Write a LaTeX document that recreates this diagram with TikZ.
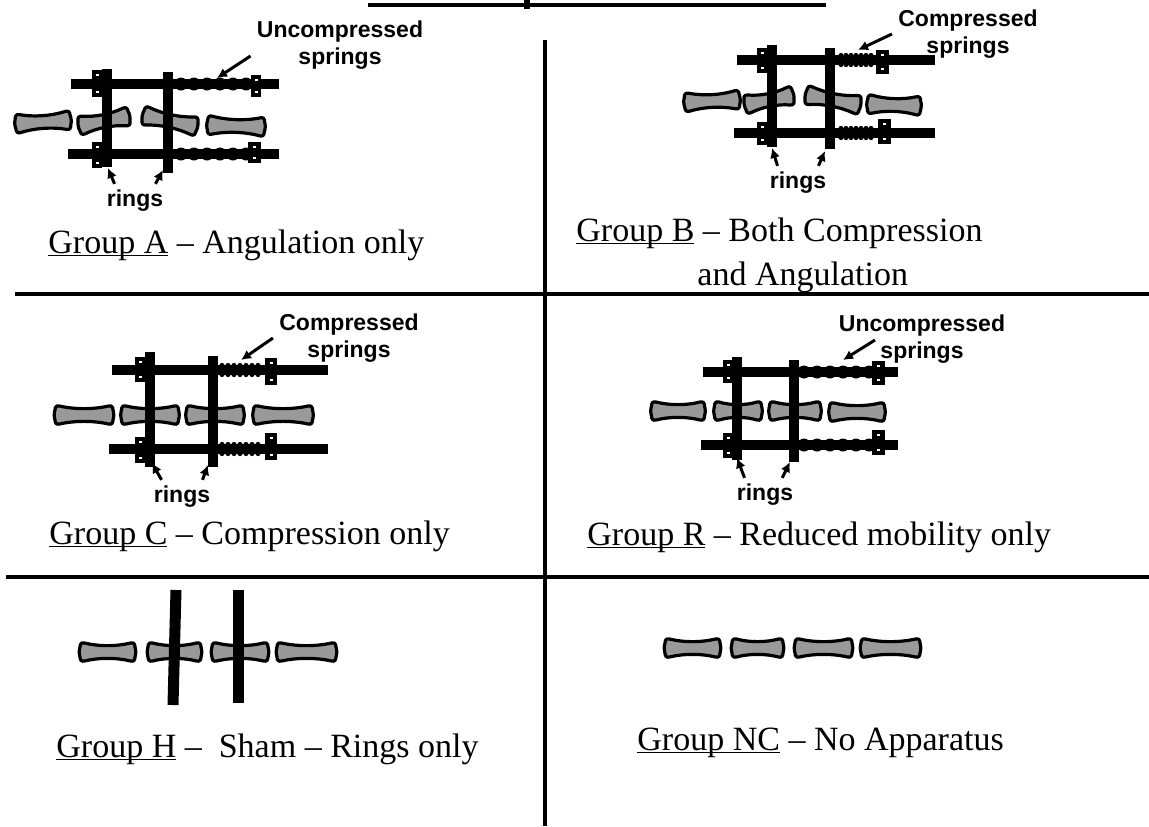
\documentclass[tikz,border=0pt]{standalone}
\usepackage{fontspec}
\setmainfont{Liberation Serif}
\setsansfont{Liberation Sans}
\usetikzlibrary{arrows.meta}

% one phalanx: centre x, centre y, tilt, half length
\newcommand{\bone}[4]{%
  \filldraw[bone, shift={(#1,#2)}, rotate=#3]
    ({-#4+4},-9) .. controls ({-#4/3},-5.5) and ({#4/3},-5.5) .. ({#4-4},-9)
    .. controls ({#4-1},-9.8) and ({#4+0.5},-8) .. ({#4+0.5},-5)
    .. controls ({#4+1.5},-2) and ({#4+1.5},2) .. ({#4+0.5},5)
    .. controls ({#4+0.5},8) and ({#4-1},9.8) .. ({#4-4},9)
    .. controls ({#4/3},5.5) and ({-#4/3},5.5) .. ({-#4+4},9)
    .. controls ({-#4+1},9.8) and ({-#4-0.5},8) .. ({-#4-0.5},5)
    .. controls ({-#4-1.5},2) and ({-#4-1.5},-2) .. ({-#4-0.5},-5)
    .. controls ({-#4-0.5},-8) and ({-#4+1},-9.8) .. ({-#4+4},-9) -- cycle;}

% clamp block on a rod: x1, y1, x2, y2
\newcommand{\clamp}[4]{%
  \fill (#1,#2) rectangle (#3,#4);
  \draw[white, line width=0.7pt] ({(#1+#3)/2-1.5},{#2+5}) -- ++(3,0)
                                 ({(#1+#3)/2-1.5},{#4-5}) -- ++(3,0);}

% underlined group name, rule just under the baseline
\newcommand{\grp}[1]{\underline{\smash{#1}}}

\begin{document}
\begin{tikzpicture}[x=0.5pt, y=-0.5pt,
  bone/.style    ={draw=black, fill=black!40, line width=1.6pt},
  rod/.style     ={line width=5pt},
  ringbar/.style ={line width=5pt},
  divider/.style ={line width=2pt},
  ptr/.style     ={line width=1.5pt, -{Latex[length=5pt,width=5pt]}},
  lbl/.style     ={font=\sffamily\bfseries\fontsize{11.5}{13.5}\selectfont, align=center, inner sep=3pt},
  grouptxt/.style={font=\fontsize{17}{21}\selectfont, anchor=base west, inner sep=0pt}]

  \useasboundingbox (0,0) rectangle (1149,826);

  % ---------------- panel dividers ----------------
  \draw[divider] (368,5) -- (826,5);
  \fill (524,0) rectangle (530,9);
  \draw[divider] (545,40) -- (545,826);
  \draw[divider] (15,294) -- (1149,294);
  \draw[divider] (6,577) -- (1149,577);

  % ---------------- Group A : angulation ----------------
  \bone{43}{122}{4}{27}
  \bone{104}{121}{11}{25}
  \bone{170}{121}{-12}{27}
  \bone{236}{126}{-2}{28}
  \draw[rod] (71,84) -- (279,84);
  \draw[rod] (68,154) -- (279,154);
  \foreach \x in {181,194,...,246} {\fill (\x,84) circle[radius=6.5]; \fill (\x,154) circle[radius=6.5];}
  \draw[ringbar] (107,69) -- (107,167);
  \draw[ringbar] (168,72) -- (168,173);
  \clamp{92}{70}{102}{97} \clamp{92}{142}{102}{168}
  \clamp{251}{75}{261}{97} \clamp{248}{142}{261}{163}
  \node[lbl] (sprA) at (340,45) {Uncompressed\\springs};
  \coordinate (sprAtip) at (217,78);
  \draw[ptr] (sprA.187) -- (sprAtip);
  \node[lbl] (rgA) at (135,201) {rings};
  \coordinate (rgAl) at (108,168); \coordinate (rgAr) at (163,170);
  \draw[ptr] (rgA.140) -- (rgAl);
  \draw[ptr] (rgA.40) -- (rgAr);
  \node[grouptxt] (capA) at (48,253) {\grp{Group A} – Angulation only};

  % ---------------- Group B : compression + angulation ----------------
  \bone{712}{101}{3}{27}
  \bone{769}{100}{11}{24}
  \bone{833}{100}{-11}{27}
  \bone{894}{105}{-2}{26}
  \draw[rod] (737,60) -- (935,60);
  \draw[rod] (734,133) -- (935,133);
  \foreach \x in {841,846,...,873} {
    \fill (\x,55.5) circle[radius=2.6]; \fill (\x,64.5) circle[radius=2.6];
    \fill (\x,128.5) circle[radius=2.6]; \fill (\x,137.5) circle[radius=2.6];}
  \draw[ringbar] (772,45) -- (772,147);
  \draw[ringbar] (830,48) -- (830,149);
  \clamp{757}{48}{767}{73} \clamp{757}{122}{767}{145}
  \clamp{876}{50}{889}{74} \clamp{878}{119}{891}{144}
  \node[lbl] (sprB) at (968,34) {Compressed\\springs};
  \coordinate (sprBtip) at (858,50);
  \draw[ptr] (sprB.west) -- (sprBtip);
  \node[lbl] (rgB) at (798,183) {rings};
  \coordinate (rgBl) at (772,148); \coordinate (rgBr) at (825,151);
  \draw[ptr] (rgB.140) -- (rgBl);
  \draw[ptr] (rgB.40) -- (rgBr);
  \node[grouptxt] (capB) at (576,241) {\grp{Group B} – Both Compression};
  \node[grouptxt] (capB2) at (697,285) {and Angulation};

  % ---------------- Group C : compression ----------------
  \bone{84}{415}{0}{28.5}
  \bone{150}{415}{0}{28}
  \bone{215}{415}{0}{28}
  \bone{283}{415}{0}{29}
  \draw[rod] (112,370) -- (328,370);
  \draw[rod] (109,449) -- (328,449);
  \foreach \x in {222,228,...,261} {
    \fill (\x,365.5) circle[radius=2.6]; \fill (\x,374.5) circle[radius=2.6];
    \fill (\x,444.5) circle[radius=2.6]; \fill (\x,453.5) circle[radius=2.6];}
  \draw[ringbar] (150,352) -- (150,467);
  \draw[ringbar] (213,356) -- (213,467);
  \clamp{135}{357}{145}{382} \clamp{135}{437}{145}{463}
  \clamp{265}{358}{277}{385} \clamp{265}{433}{277}{460}
  \node[lbl] (sprC) at (349,338) {Compressed\\springs};
  \coordinate (sprCtip) at (241,360);
  \draw[ptr] (sprC.west) -- (sprCtip);
  \node[lbl] (rgC) at (182,497) {rings};
  \coordinate (rgCl) at (152,463); \coordinate (rgCr) at (208,465);
  \draw[ptr] (rgC.140) -- (rgCl);
  \draw[ptr] (rgC.40) -- (rgCr);
  \node[grouptxt] (capC) at (49,544) {\grp{Group C} – Compression only};

  % ---------------- Group R : reduced mobility ----------------
  \bone{678}{411}{0}{26}
  \bone{738}{411}{0}{23}
  \bone{795}{411}{0}{25}
  \bone{857}{412}{0}{27}
  \draw[rod] (703,372) -- (898,372);
  \draw[rod] (701,445) -- (898,445);
  \foreach \x in {804,817,...,869} {\fill (\x,372) circle[radius=6.5]; \fill (\x,445) circle[radius=6.5];}
  \draw[ringbar] (737,357) -- (737,460);
  \draw[ringbar] (794,360) -- (794,462);
  \clamp{723}{360}{733}{383} \clamp{723}{433}{733}{458}
  \clamp{872}{361}{885}{385} \clamp{872}{430}{885}{455}
  \node[lbl] (sprR) at (922,339) {Uncompressed\\springs};
  \coordinate (sprRtip) at (843,360);
  \draw[ptr] ([shift={(-47,1)}]sprR.center) -- (sprRtip);
  \node[lbl] (rgR) at (765,495) {rings};
  \coordinate (rgRl) at (737,458); \coordinate (rgRr) at (790,462);
  \draw[ptr] (rgR.140) -- (rgRl);
  \draw[ptr] (rgR.45) -- (rgRr);
  \node[grouptxt] (capR) at (587,545) {\grp{Group R} – Reduced mobility only};

  % ---------------- Group H : sham, rings only ----------------
  \bone{107.5}{652}{0}{27}
  \bone{174.5}{652}{0}{26}
  \bone{240}{652}{0}{27.5}
  \bone{306.5}{652}{0}{29}
  \draw[ringbar, line width=5.5pt] (176,590) -- (173,705);
  \draw[ringbar, line width=5.5pt] (238,590) -- (238,703);
  \node[grouptxt] (capH) at (56,757) {\grp{Group H} –\ \ Sham – Rings only};

  % ---------------- Group NC : no apparatus ----------------
  \bone{692.5}{648}{0}{27}
  \bone{757.5}{648}{0}{25}
  \bone{823.5}{648}{0}{28}
  \bone{890.5}{648}{0}{29}
  \node[grouptxt] (capNC) at (637,750) {\grp{Group NC} – No Apparatus};
\end{tikzpicture}
\end{document}
